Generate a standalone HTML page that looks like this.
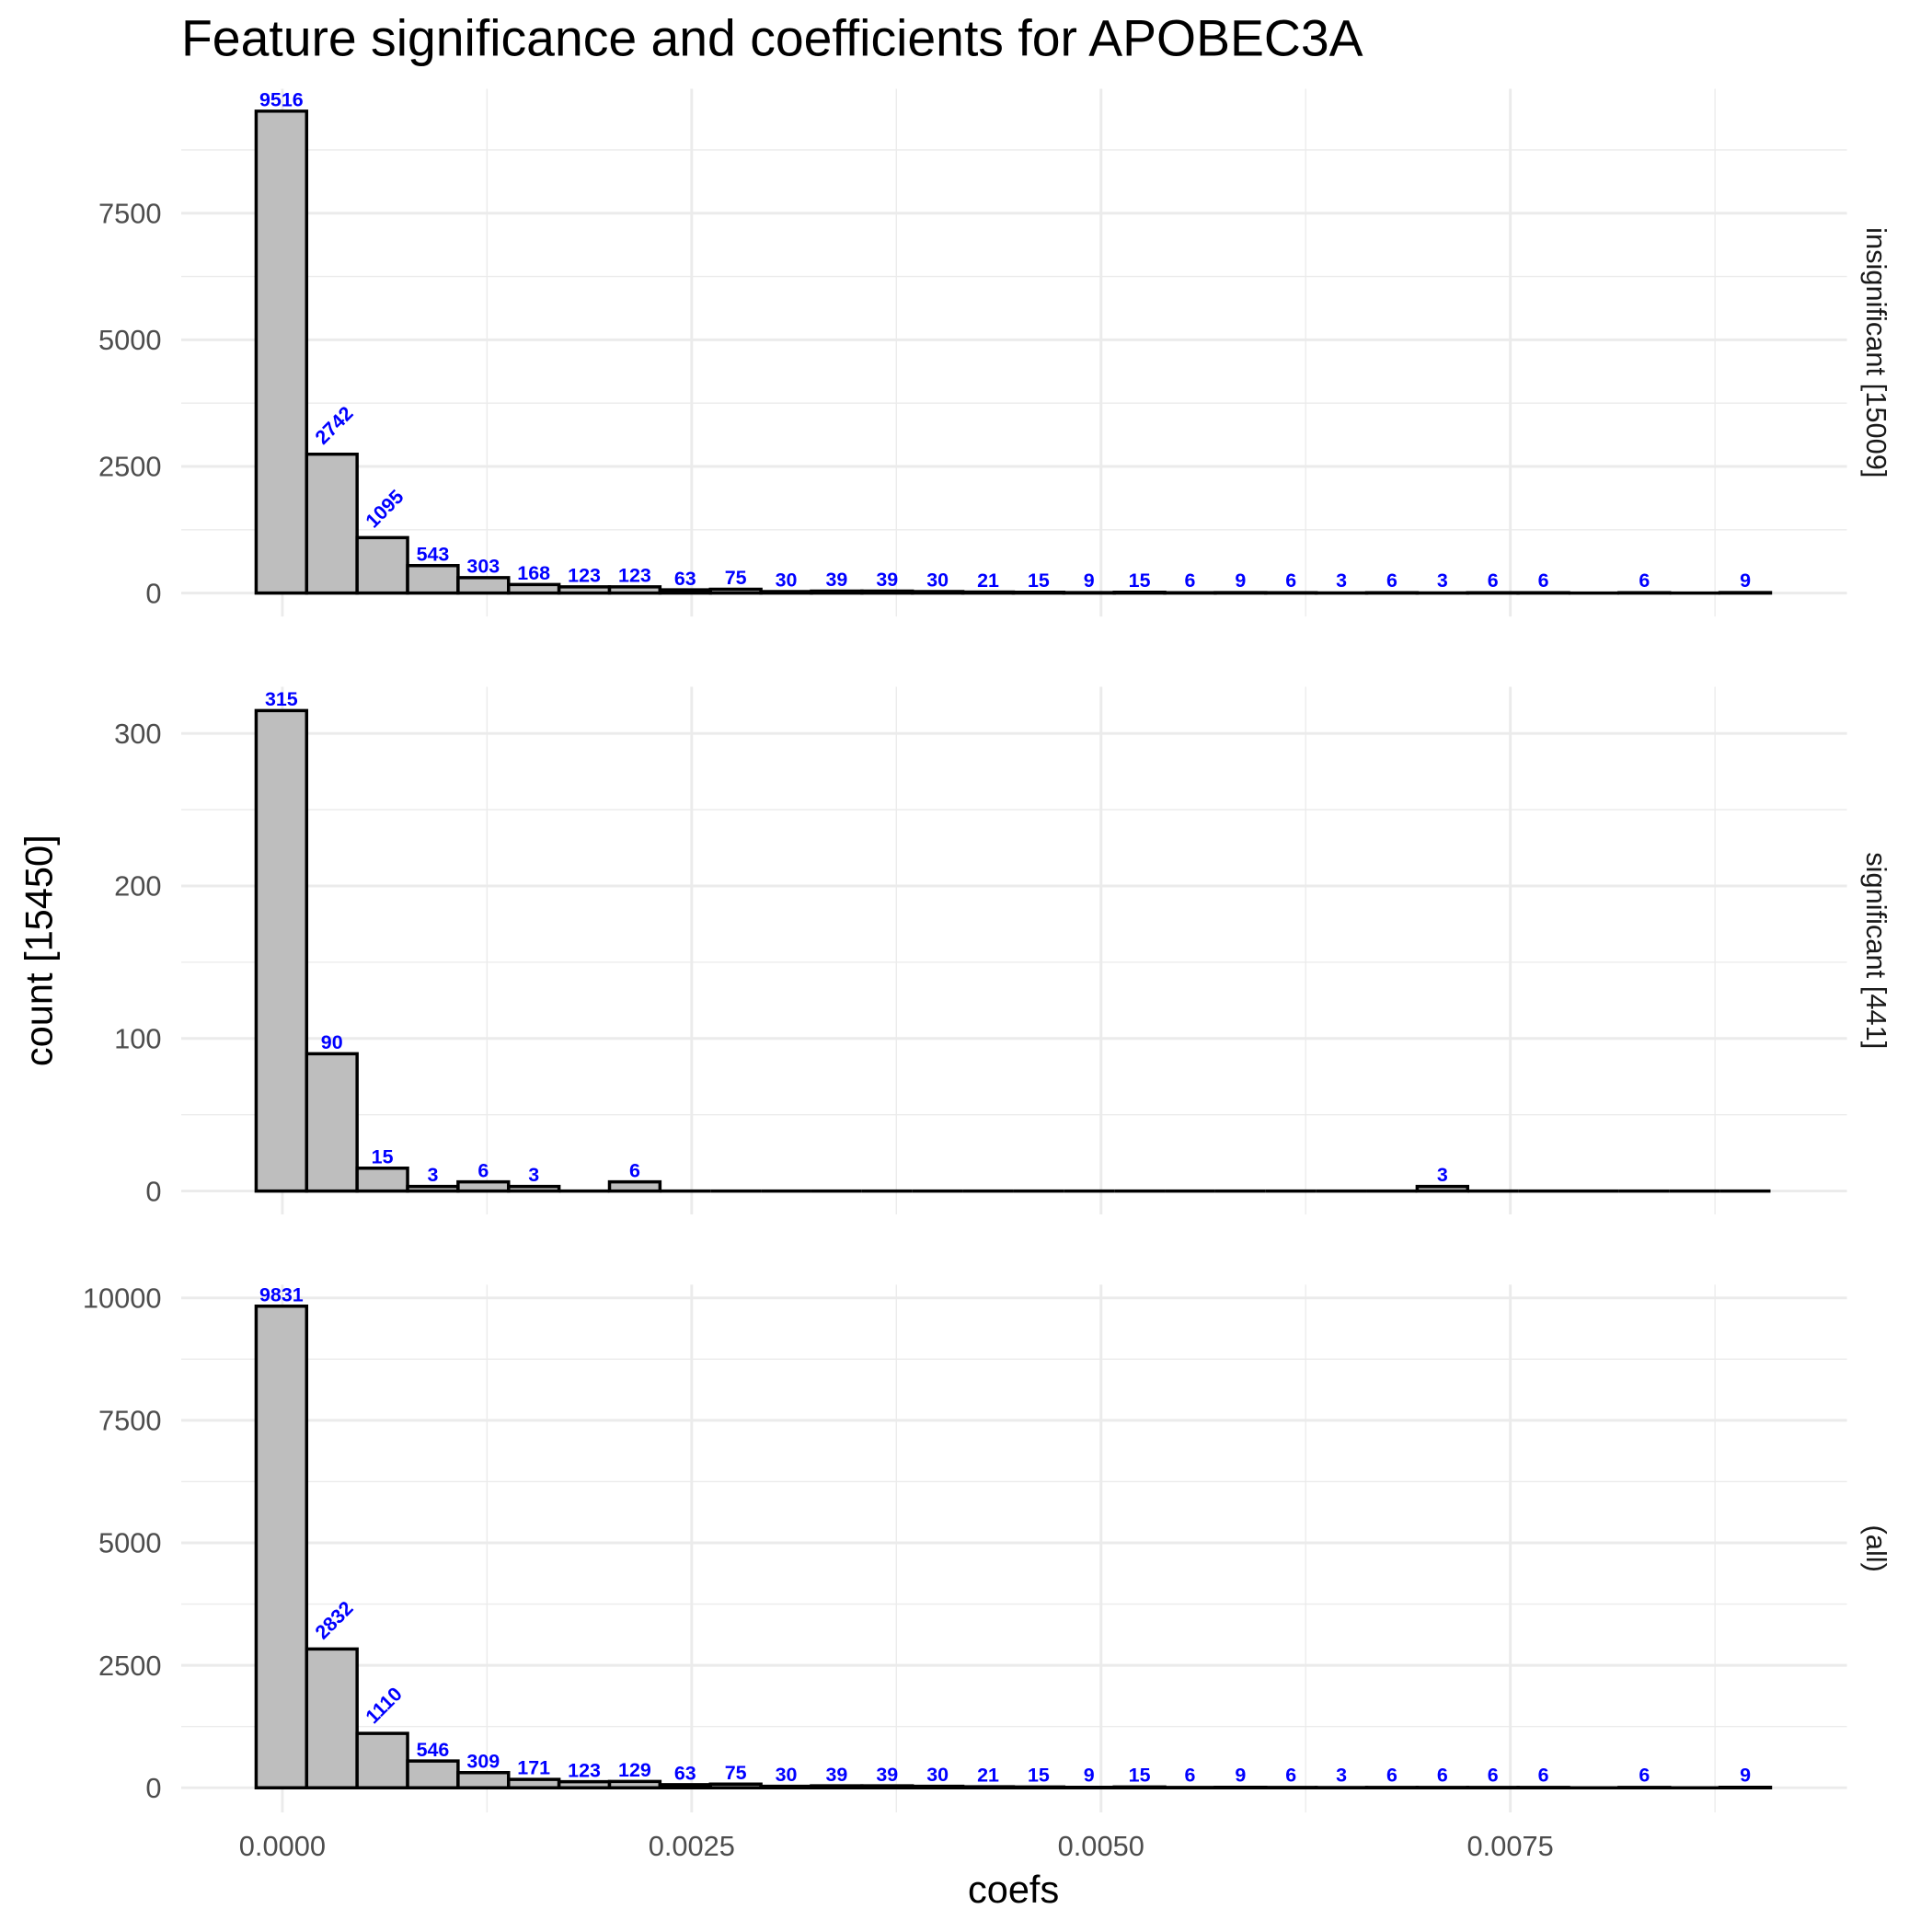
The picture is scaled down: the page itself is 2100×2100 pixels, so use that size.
<!DOCTYPE html>
<html><head><meta charset="utf-8"><style>
html,body{margin:0;padding:0;background:#fff;}
svg{display:block;}
text{font-family:"Liberation Sans",Arial,sans-serif;}
</style></head><body>
<svg id="chart" width="2100" height="2100" viewBox="0 0 1567 1567" xmlns="http://www.w3.org/2000/svg">
<rect width="1567" height="1567" fill="#fff"/>
<text x="147" y="45" font-size="41.3" fill="#000">Feature significance and coefficients for APOBEC3A</text>
<text transform="translate(42,771) rotate(-90)" text-anchor="middle" font-size="31" fill="#000">count [15450]</text>
<text x="822" y="1543" text-anchor="middle" font-size="31" fill="#000">coefs</text>
<g id="grid"></g><g id="marks"></g><g id="labels"></g>
</svg>
<script>
const binCount = 30;
const binWidth = 0.0003083;
const binStart = -0.00016;
const panelNames = ["insignificant [15009]", "significant [441]", "(all)"];
const insignificantCounts = [9516,2742,1095,543,303,168,123,123,63,75,30,39,39,30,21,15,9,15,6,9,6,3,6,3,6,6,0,6,0,9];
const significantCounts = [315,90,15,3,6,3,0,6,0,0,0,0,0,0,0,0,0,0,0,0,0,0,0,3,0,0,0,0,0,0];
const allCounts = [9831,2832,1110,546,309,171,123,129,63,75,30,39,39,30,21,15,9,15,6,9,6,3,6,6,6,6,0,6,0,9];
const xTicks = [0, 0.0025, 0.005, 0.0075];
const xTickLabels = ["0.0000","0.0025","0.0050","0.0075"];
const yTicks1 = [0,2500,5000,7500];
const yTicks2 = [0,100,200,300];
const yTicks3 = [0,2500,5000,7500,10000];
const rotatedBins = [1,2];

const NS="http://www.w3.org/2000/svg";
function mk(tag, attrs, parent){const e=document.createElementNS(NS,tag);for(const k in attrs)e.setAttribute(k,attrs[k]);parent.appendChild(e);return e;}
const X = v => 229 + v/0.0025*332;
const L=147,R=1498;
const panels = [
 {top:72,bottom:500,zero:481,max:9958,counts:insignificantCounts,ticks:yTicks1,minorStep:1250},
 {top:557,bottom:985,zero:966,max:330.6,counts:significantCounts,ticks:yTicks2,minorStep:50},
 {top:1042,bottom:1470,zero:1450,max:10270,counts:allCounts,ticks:yTicks3,minorStep:1250}
];
const grid=document.getElementById('grid'),marks=document.getElementById('marks'),labels=document.getElementById('labels');
panels.forEach((p,pi)=>{
  const Y = v => p.zero - v/p.max*(p.zero-p.top);
  for(let v=p.minorStep; Y(v)>p.top; v+=p.minorStep*2){
    const l=mk('line',{x1:L,x2:R,y1:Y(v),y2:Y(v),stroke:'#ebebeb','stroke-width':1},grid);
    
    
  }
  [0.00125,0.00375,0.00625,0.00875].forEach(v=>{
    const l=mk('line',{x1:X(v),x2:X(v),y1:p.top,y2:p.bottom,stroke:'#ebebeb','stroke-width':1},grid);
    
    
  });
  p.ticks.forEach(v=>{
    const l=mk('line',{x1:L,x2:R,y1:Y(v),y2:Y(v),stroke:'#ebebeb','stroke-width':2.2},grid);
    
    
    const t=mk('text',{x:131,y:Y(v)+8,'text-anchor':'end','font-size':23,fill:'#4d4d4d'},labels);
    t.textContent=String(v);
    
    
  });
  xTicks.forEach(v=>{
    const l=mk('line',{x1:X(v),x2:X(v),y1:p.top,y2:p.bottom,stroke:'#ebebeb','stroke-width':2.2},grid);
    
    
  });
  const vmax=Math.max(...p.counts);
  p.counts.forEach((c,i)=>{
    const x0=X(binStart+i*binWidth), x1=X(binStart+(i+1)*binWidth);
    const d=`M${x0},${Y(0)}L${x0},${Y(c)}L${x1},${Y(c)}L${x1},${Y(0)}Z`;
    const r=mk('path',{d:d,fill:'#bebebe',stroke:'#000','stroke-width':2.6,'stroke-linejoin':'miter'},marks);
    
    
    if(c>0){
      const cx=(x0+x1)/2;
      let t;
      if(rotatedBins.includes(i) && c<vmax && c>1000){
        t=mk('text',{transform:`translate(${cx-7},${Y(c)-7}) rotate(-45)`,'font-size':16,'font-weight':'bold',fill:'#0000ff','text-anchor':'start'},labels);
      } else {
        t=mk('text',{x:cx,y:Math.min(Y(c)-4,p.zero-5),'font-size':16,'font-weight':'bold',fill:'#0000ff','text-anchor':'middle'},labels);
      }
      t.textContent=String(c);
      
      
    }
  });
  const s=mk('text',{transform:`translate(1514,${(p.top+p.bottom)/2}) rotate(90)`,'text-anchor':'middle','font-size':23,fill:'#1a1a1a'},labels);
  s.textContent=panelNames[pi];
  
  
});
xTicks.forEach((v,i)=>{
  const t=mk('text',{x:X(v),y:1505,'text-anchor':'middle','font-size':23,fill:'#4d4d4d'},labels);
  t.textContent=xTickLabels[i];
  
  
});
</script>
</body></html>
